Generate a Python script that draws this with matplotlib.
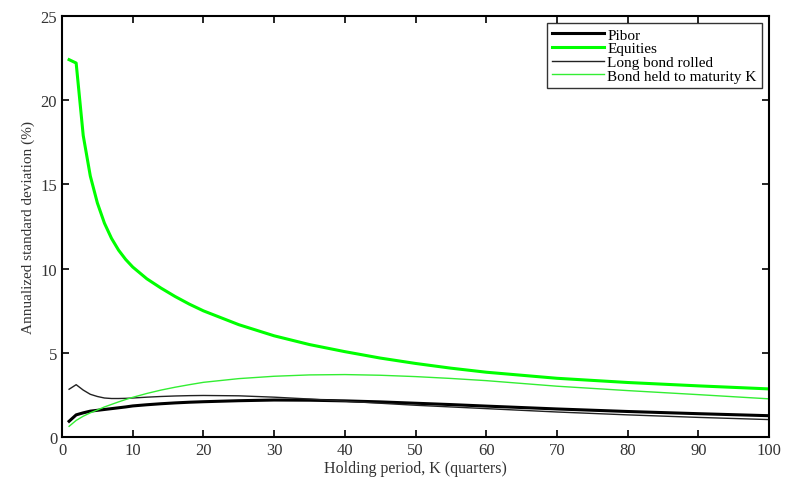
import matplotlib
matplotlib.use("Agg")
import matplotlib.pyplot as plt

K = [1, 2, 3, 4, 5, 6, 7, 8, 9, 10, 12, 14, 16, 18, 20, 25, 30, 35, 40, 45, 50, 55, 60, 70, 80, 90, 100]
pibor = [0.95, 1.33, 1.45, 1.55, 1.60, 1.65, 1.70, 1.75, 1.80, 1.86, 1.93, 1.99, 2.04, 2.08, 2.11, 2.17, 2.21,
         2.20, 2.16, 2.10, 2.02, 1.94, 1.85, 1.68, 1.53, 1.40, 1.28]
equities = [22.4, 22.2, 17.9, 15.5, 13.9, 12.7, 11.8, 11.1, 10.55, 10.1, 9.4, 8.85, 8.35, 7.9, 7.5, 6.68, 6.02,
            5.5, 5.08, 4.7, 4.38, 4.1, 3.86, 3.5, 3.25, 3.05, 2.87]
long_bond = [2.85, 3.12, 2.80, 2.55, 2.42, 2.33, 2.30, 2.30, 2.31, 2.33, 2.38, 2.42, 2.45, 2.47, 2.48, 2.46, 2.38,
             2.27, 2.14, 2.02, 1.90, 1.80, 1.70, 1.50, 1.33, 1.18, 1.05]
held_to_mat = [0.65, 1.0, 1.25, 1.45, 1.62, 1.80, 1.95, 2.10, 2.24, 2.37, 2.60, 2.80, 2.97, 3.12, 3.26, 3.48, 3.62,
               3.70, 3.72, 3.68, 3.60, 3.49, 3.36, 3.03, 2.77, 2.53, 2.28]

serif = ["Liberation Serif", "DejaVu Serif"]
plt.rcParams["font.family"] = serif

fig = plt.figure(figsize=(7.88, 4.81), dpi=100)
ax = fig.add_axes([0.0787, 0.0888, 0.8973, 0.8762])

ax.plot(K, pibor, color="black", lw=2.2, label="Pibor")
ax.plot(K, equities, color="#00ff00", lw=2.2, label="Equities")
ax.plot(K, long_bond, color="#222222", lw=1.0, label="Long bond rolled")
ax.plot(K, held_to_mat, color="#33ee33", lw=1.0, label="Bond held to maturity K")

ax.set_xlim(0, 100)
ax.set_ylim(0, 25)
ax.set_xticks(range(0, 101, 10))
ax.set_yticks(range(0, 26, 5))
ax.tick_params(direction="in", top=True, right=True, labelsize=12, length=5, width=1.2, colors="black", labelcolor="#333333")
for s in ax.spines.values():
    s.set_linewidth(1.5)
ax.set_xlabel("Holding period, K (quarters)", fontsize=11.5, color="#333333", labelpad=1)
ax.set_ylabel("Annualized standard deviation (%)", fontsize=11, color="#333333", labelpad=4)

leg = ax.legend(loc="upper right", fontsize=11, frameon=True, fancybox=False,
                edgecolor="black", handlelength=3.4, borderaxespad=0.45,
                labelspacing=0.0, borderpad=0.35, handletextpad=0.2)
leg.get_frame().set_linewidth(1.0)

fig.savefig("out.png", dpi=100)
